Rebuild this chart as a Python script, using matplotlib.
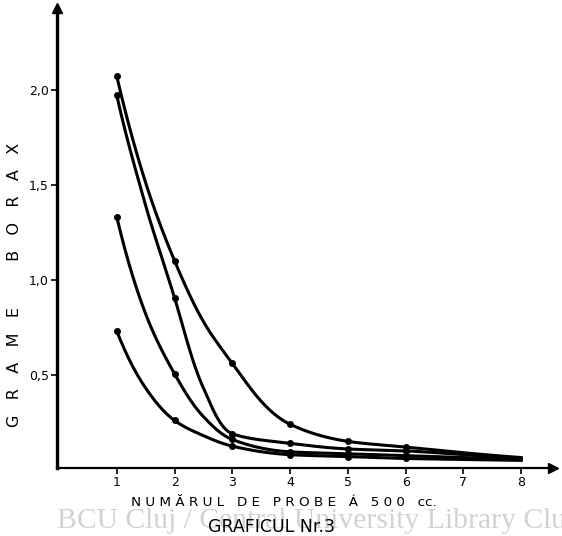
import numpy as np
import matplotlib
matplotlib.use("Agg")
import matplotlib.pyplot as plt

# numarul probei (x) si grame borax (y) citite de pe cele 4 curbe
probe = [1, 1.5, 2, 2.5, 3, 4, 5, 6, 7, 8]
curba_a = [2.07, 1.51, 1.10, 0.78, 0.56, 0.24, 0.15, 0.12, 0.09, 0.065]
curba_b = [1.97, 1.39, 0.905, 0.43, 0.19, 0.14, 0.11, 0.10, 0.08, 0.06]
curba_c = [1.33, 0.82, 0.505, 0.28, 0.16, 0.095, 0.085, 0.075, 0.065, 0.055]
curba_d = [0.73, 0.43, 0.26, 0.18, 0.125, 0.08, 0.07, 0.06, 0.055, 0.05]

# punctele marcate pe grafic
probe_puncte = [1, 2, 3, 4, 5, 6]
y_ticks = [0.5, 1.0, 1.5, 2.0]
y_labels = ["0,5", "1,0", "1,5", "2,0"]
x_ticks = [1, 2, 3, 4, 5, 6, 7, 8]


def pchip(x, y, xs):
    # monotone cubic (Fritsch-Carlson), folosit pe log(y) pentru curbe netede
    x = np.asarray(x, float)
    y = np.asarray(y, float)
    h = np.diff(x)
    d = np.diff(y) / h
    m = np.zeros_like(y)
    m[0], m[-1] = d[0], d[-1]
    for i in range(1, len(y) - 1):
        if d[i - 1] * d[i] > 0:
            w1 = 2 * h[i] + h[i - 1]
            w2 = h[i] + 2 * h[i - 1]
            m[i] = (w1 + w2) / (w1 / d[i - 1] + w2 / d[i])
    idx = np.clip(np.searchsorted(x, xs) - 1, 0, len(x) - 2)
    t = (xs - x[idx]) / h[idx]
    h00 = 2 * t**3 - 3 * t**2 + 1
    h10 = t**3 - 2 * t**2 + t
    h01 = -2 * t**3 + 3 * t**2
    h11 = t**3 - t**2
    return h00 * y[idx] + h10 * h[idx] * m[idx] + h01 * y[idx + 1] + h11 * h[idx] * m[idx + 1]


fig = plt.figure(figsize=(5.62, 5.36), dpi=100)
W, H = 562, 536
ax = fig.add_axes([57 / W, (H - 468) / H, (553 - 57) / W, (468 - 8) / H])
ax.set_xlim(-0.035, 8.55)
ax.set_ylim(0.01, 2.43)

xs = np.linspace(1, 8, 400)
for c in [curba_a, curba_b, curba_c, curba_d]:
    ax.plot(xs, np.exp(pchip(probe, np.log(c), xs)), color="black", lw=2.2)
    py = [v for p, v in zip(probe, c) if p in probe_puncte]
    ax.plot(probe_puncte, py, "o", color="black", ms=4)

for s in ["top", "right"]:
    ax.spines[s].set_visible(False)
ax.spines["left"].set_linewidth(2.4)
ax.spines["bottom"].set_linewidth(1.6)
ax.plot(0, 1, "^k", ms=7, transform=ax.transAxes, clip_on=False)
ax.plot(1, 0, ">k", ms=7, transform=ax.transAxes, clip_on=False)

ax.set_xticks(x_ticks)
ax.set_xticklabels([str(p) for p in x_ticks], fontsize=9)
ax.set_yticks(y_ticks)
ax.set_yticklabels(y_labels, fontsize=9)
ax.tick_params(axis="both", direction="out", length=4, width=1.2, pad=2)

fig.text(15 / W, 1 - 285 / H, "G   R   A   M   E         B   O   R   A   X", rotation=90,
         ha="center", va="center", fontsize=11.5)
fig.text(284 / W, 1 - 502 / H, "N U M Ă R U L   D E   P R O B E   Á   5 0 0   cc.",
         ha="center", va="center", fontsize=9.7)
fig.text(57 / W, 1 - 521 / H, "BCU Cluj / Central University Library Cluj",
         ha="left", va="center", fontsize=21.3, color="#d2d2d2", family="Liberation Serif")
fig.text(272 / W, 1 - 527 / H, "GRAFICUL Nr.3", ha="center", va="center", fontsize=12.5)

fig.savefig("out.png", dpi=100)
